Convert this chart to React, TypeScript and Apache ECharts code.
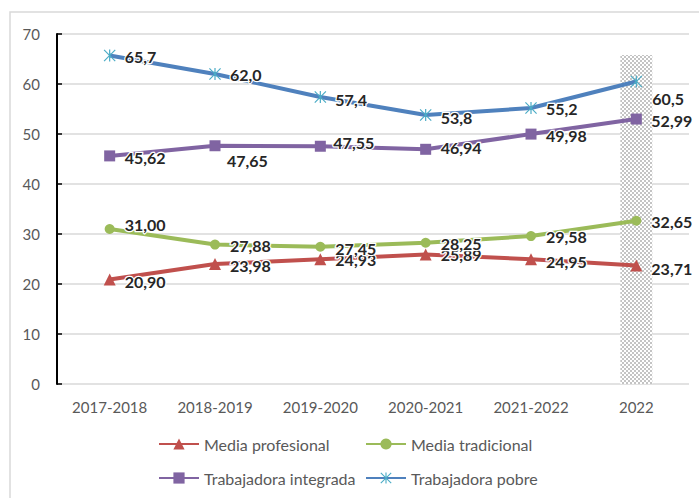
import { useEffect, useRef } from "react";
import * as echarts from "echarts";

const categories = ["2017-2018", "2018-2019", "2019-2020", "2020-2021", "2021-2022", "2022"];
const mediaProfesional = [20.9, 23.98, 24.93, 25.89, 24.95, 23.71];
const mediaTradicional = [31.0, 27.88, 27.45, 28.25, 29.58, 32.65];
const trabajadoraIntegrada = [45.62, 47.65, 47.55, 46.94, 49.98, 52.99];
const trabajadoraPobre = [65.7, 62.0, 57.4, 53.8, 55.2, 60.5];
const highlight2022 = [null, null, null, null, null, 65.8];
const seriesNames = ["Media profesional", "Media tradicional", "Trabajadora integrada", "Trabajadora pobre"];

// label offsets (styling only)
const profOffsets = [[0, 2], [0, 1], [0, 0], [0, 0], [0, 2], [0, 3]];
const tradOffsets = [[0, -5], [0, 1], [0, 2], [0, 1], [0, 0], [0, 1]];
const integOffsets = [[0, 1.5], [-3, 15], [-2, -4], [0, -2], [0, 1], [0, 1]];
const pobreOffsets = [[0, 1], [0, 0], [0, 2], [0, 2], [0, 0], [1, 17]];

const FONT = "Lato";
const STAR = "path://M4.5 0h1v10h-1z M0.7 0 L5 4.3 L9.3 0 L10 0.7 L5.7 5 L10 9.3 L9.3 10 L5 5.7 L0.7 10 L0 9.3 L4.3 5 L0 0.7 Z";

function fmt(v: number, d: number) {
  return v.toFixed(d).replace(".", ",");
}

function buildData(values: number[], offsets: number[][], decimals: number) {
  return values.map((v, i) => ({
    value: v,
    label: { offset: offsets[i], formatter: () => fmt(v, decimals) },
  }));
}

export default function App() {
  const ref = useRef<HTMLDivElement>(null);
  useEffect(() => {
    if (!ref.current) return;
    const chart = echarts.init(ref.current, undefined, { renderer: "svg" });

    const c = document.createElement("canvas");
    c.width = 4;
    c.height = 4;
    const ctx = c.getContext("2d")!;
    ctx.fillStyle = "#ffffff";
    ctx.fillRect(0, 0, 4, 4);
    ctx.fillStyle = "#c4c4c4";
    ctx.fillRect(0, 0, 2, 2);
    ctx.fillRect(2, 2, 2, 2);

    const labelBase = {
      show: true,
      position: "right",
      fontFamily: FONT,
      fontSize: 16,
      fontWeight: "bold",
      color: "#262626",
      textBorderColor: "#ffffff",
      textBorderWidth: 2.5,
    };

    const legendBase = (name: string, left: number, top: number) => ({
      data: [name],
      left,
      top,
      padding: 0,
      itemWidth: 40,
      itemHeight: 14,
      selectedMode: false,
      textStyle: { color: "#595959", fontSize: 16, fontFamily: FONT },
    });

    chart.setOption({
      animation: false,
      backgroundColor: "#ffffff",
      graphic: [
        {
          type: "rect",
          shape: { x: 10, y: 12, width: 720, height: 520 },
          style: { fill: "none", stroke: "#d9d9d9", lineWidth: 1.5 },
          silent: true,
        },
      ],
      grid: { left: 57, right: 10, top: 34, bottom: 114 },
      legend: [
        legendBase(seriesNames[0], 158, 436),
        legendBase(seriesNames[1], 365, 436),
        legendBase(seriesNames[2], 158, 470),
        legendBase(seriesNames[3], 365, 470),
      ],
      xAxis: {
        type: "category",
        data: categories,
        boundaryGap: true,
        axisLine: { show: false },
        axisTick: { show: false },
        axisLabel: { color: "#595959", fontSize: 15, fontFamily: FONT, margin: 15 },
      },
      yAxis: {
        type: "value",
        min: 0,
        max: 70,
        interval: 10,
        axisLine: { show: true, lineStyle: { color: "#000000", width: 2 } },
        axisTick: { show: true, inside: true, length: 5, lineStyle: { color: "#000000", width: 1.5 } },
        splitLine: { lineStyle: { color: "#d9d9d9", width: 1.5 } },
        axisLabel: { color: "#595959", fontSize: 15, fontFamily: FONT, margin: 17 },
      },
      series: [
        {
          type: "bar",
          name: "2022 resaltado",
          data: highlight2022,
          barWidth: 32,
          silent: true,
          itemStyle: { color: { image: c, repeat: "repeat", imageWidth: 4, imageHeight: 4 } },
          label: { show: false },
          z: 1,
        },
        {
          type: "line",
          name: seriesNames[0],
          data: buildData(mediaProfesional, profOffsets, 2),
          symbol: "triangle",
          symbolSize: 12,
          lineStyle: { color: "#c0504d", width: 4 },
          itemStyle: { color: "#c0504d" },
          label: { ...labelBase, distance: 9 },
        },
        {
          type: "line",
          name: seriesNames[1],
          data: buildData(mediaTradicional, tradOffsets, 2),
          symbol: "circle",
          symbolSize: 10,
          lineStyle: { color: "#9bbb59", width: 4 },
          itemStyle: { color: "#9bbb59" },
          label: { ...labelBase, distance: 10 },
        },
        {
          type: "line",
          name: seriesNames[2],
          data: buildData(trabajadoraIntegrada, integOffsets, 2),
          symbol: "rect",
          symbolSize: 11,
          lineStyle: { color: "#8064a2", width: 4 },
          itemStyle: { color: "#8064a2" },
          label: { ...labelBase, distance: 9.5 },
        },
        {
          type: "line",
          name: seriesNames[3],
          data: buildData(trabajadoraPobre, pobreOffsets, 1),
          symbol: STAR,
          symbolSize: 12,
          lineStyle: { color: "#4f81bd", width: 4 },
          itemStyle: { color: "#4bacc6" },
          label: { ...labelBase, distance: 9 },
        },
      ],
    });
    return () => chart.dispose();
  }, []);

  return (
    <div
      ref={ref}
      style={{ position: "absolute", left: 0, top: 0, width: 699, height: 498 }}
    />
  );
}
